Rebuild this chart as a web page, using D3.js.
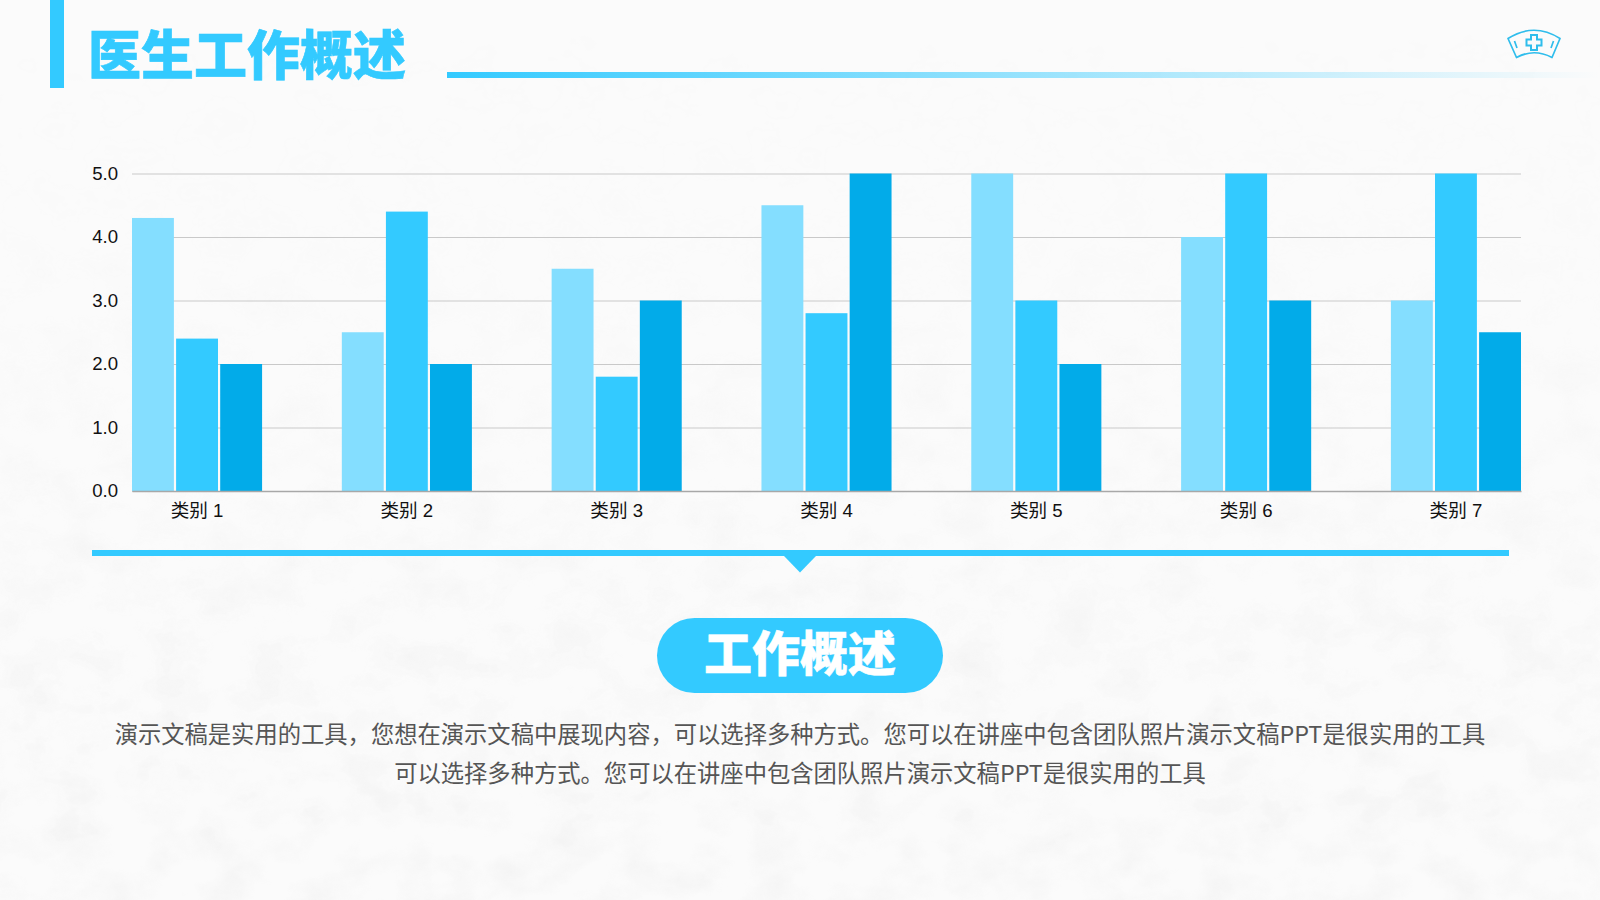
<!DOCTYPE html>
<html>
<head>
<meta charset="utf-8">
<script src="https://cdn.jsdelivr.net/npm/d3@7"></script>
<style>
  html, body { margin: 0; padding: 0; background: #fbfbfb; overflow: hidden; }
  text { font-family: "Noto Sans CJK SC", sans-serif; }
  .axis text { font-family: "Liberation Sans", "Noto Sans CJK SC", sans-serif; font-size: 18.6px; fill: #111; }
</style>
</head>
<body>
<div id="chart"></div>
<script>
const width = 1600;
const height = 900;

const categories = ["类别 1", "类别 2", "类别 3", "类别 4", "类别 5", "类别 6", "类别 7"];
const seriesNames = ["系列 1", "系列 2", "系列 3"];
const series1 = [4.3, 2.5, 3.5, 4.5, 5.0, 4.0, 3.0];
const series2 = [2.4, 4.4, 1.8, 2.8, 3.0, 5.0, 5.0];
const series3 = [2.0, 2.0, 3.0, 5.0, 2.0, 3.0, 2.5];
const seriesValues = [series1, series2, series3];
const seriesColors = ["#84deff", "#33caff", "#02abe9"];
const yTicks = [0, 1, 2, 3, 4, 5];

const bodyLines = [
  "演示文稿是实用的工具，您想在演示文稿中展现内容，可以选择多种方式。您可以在讲座中包含团队照片演示文稿PPT是很实用的工具",
  "可以选择多种方式。您可以在讲座中包含团队照片演示文稿PPT是很实用的工具"
];

const blue = "#33caff";

const svg = d3.select("#chart").append("svg")
    .attr("width", width)
    .attr("height", height)
    .attr("viewBox", [0, 0, width, height])
    .style("display", "block");

const defs = svg.append("defs");

// paper texture for the background, stronger towards the bottom
const paper = defs.append("filter").attr("id", "paper")
    .attr("x", 0).attr("y", 0).attr("width", "100%").attr("height", "100%");
paper.append("feTurbulence")
    .attr("type", "fractalNoise")
    .attr("baseFrequency", "0.02 0.028")
    .attr("numOctaves", 6)
    .attr("seed", 4);
paper.append("feColorMatrix")
    .attr("values", "0 0 0 0 0.45  0 0 0 0 0.45  0 0 0 0 0.45  0.9 0 0 0 -0.36");

const fade = defs.append("linearGradient").attr("id", "textureFade")
    .attr("x1", 0).attr("y1", 0).attr("x2", 0).attr("y2", 1);
fade.append("stop").attr("offset", "0%").attr("stop-color", "#000");
fade.append("stop").attr("offset", "25%").attr("stop-color", "#333");
fade.append("stop").attr("offset", "70%").attr("stop-color", "#ccc");
fade.append("stop").attr("offset", "100%").attr("stop-color", "#fff");
defs.append("mask").attr("id", "textureMask")
  .append("rect").attr("width", width).attr("height", height).attr("fill", "url(#textureFade)");

const headerLine = defs.append("linearGradient").attr("id", "headerLine");
headerLine.append("stop").attr("offset", "0%").attr("stop-color", blue);
headerLine.append("stop").attr("offset", "100%").attr("stop-color", blue).attr("stop-opacity", 0);

svg.append("rect").attr("width", width).attr("height", height).attr("fill", "#fbfbfb");
svg.append("g").attr("mask", "url(#textureMask)")
  .append("rect").attr("width", width).attr("height", height)
    .attr("filter", "url(#paper)").attr("opacity", 0.2);

// header
svg.append("rect").attr("x", 50).attr("y", 0).attr("width", 14).attr("height", 88).attr("fill", blue);
svg.append("text")
    .attr("x", 88).attr("y", 74.5)
    .attr("fill", blue)
    .attr("stroke", blue).attr("stroke-width", 0.6)
    .style("font-size", "53px").style("font-weight", 900)
    .text("医生工作概述");
svg.append("rect").attr("x", 447).attr("y", 72).attr("width", 1153).attr("height", 6).attr("fill", "url(#headerLine)");

// nurse cap icon
const cap = svg.append("g").attr("fill", "none").attr("stroke", "#2fbdec").attr("stroke-width", 1.7);
cap.append("path").attr("d", "M1508 38.5Q1534 22 1560 38.5L1552 57.5Q1534 48 1516.5 57.5Z").attr("stroke-linejoin", "round");
cap.append("path").attr("d", "M1531 35h6v4.5h4.5v6h-4.5v4.5h-6v-4.5h-4.5v-6h4.5z").attr("stroke-width", 2);
cap.append("path").attr("d", "M1514.5 41l2.5 7M1553.5 41l-2.5 7");

// chart
const margin = { top: 173.5, right: 79, bottom: 409, left: 132 };

const x0 = d3.scaleBand()
    .domain(categories)
    .range([margin.left, width - margin.right])
    .paddingInner(0.38)
    .paddingOuter(0);

const x1 = d3.scaleBand()
    .domain(seriesNames)
    .range([0, x0.bandwidth()])
    .paddingInner(0.05);

const y = d3.scaleLinear()
    .domain([0, 5])
    .range([height - margin.bottom, margin.top]);

const yAxis = svg.append("g")
    .attr("class", "axis")
    .attr("transform", `translate(${margin.left},0)`)
    .call(d3.axisLeft(y).tickValues(yTicks).tickFormat(d3.format(".1f")).tickSize(-(width - margin.left - margin.right)).tickPadding(14));
yAxis.select(".domain").remove();
yAxis.selectAll(".tick line").attr("stroke", "#c9c9c9").attr("stroke-width", 1.2);

svg.append("g")
  .selectAll("g")
  .data(categories)
  .join("g")
    .attr("transform", d => `translate(${x0(d)},0)`)
  .selectAll("rect")
  .data((d, i) => seriesNames.map((name, s) => ({ name, value: seriesValues[s][i], color: seriesColors[s] })))
  .join("rect")
    .attr("x", d => x1(d.name))
    .attr("width", x1.bandwidth())
    .attr("y", d => y(d.value))
    .attr("height", d => y(0) - y(d.value))
    .attr("fill", d => d.color);

const xAxis = svg.append("g")
    .attr("class", "axis")
    .attr("transform", `translate(0,${height - margin.bottom})`)
    .call(d3.axisBottom(x0).tickSize(0).tickPadding(13));
xAxis.select(".domain").attr("stroke", "#a8a8a8").attr("stroke-width", 1.5);

// divider with pointer
svg.append("rect").attr("x", 92).attr("y", 550).attr("width", 1417).attr("height", 6).attr("fill", blue);
svg.append("path").attr("d", "M784 556H816L800 572.5Z").attr("fill", blue);

// pill heading
svg.append("rect").attr("x", 657).attr("y", 618).attr("width", 286).attr("height", 75).attr("rx", 37.5).attr("fill", blue);
svg.append("text")
    .attr("x", 800).attr("y", 671)
    .attr("text-anchor", "middle")
    .attr("fill", "#fff")
    .attr("stroke", "#fff").attr("stroke-width", 0.5)
    .style("font-size", "48px").style("font-weight", 900)
    .text("工作概述");

// body text
svg.append("g")
  .selectAll("text")
  .data(bodyLines)
  .join("text")
    .attr("x", 800)
    .attr("y", (d, i) => 743 + i * 39)
    .attr("text-anchor", "middle")
    .attr("fill", "#555")
    .style("font-size", "23.3px")
    .text(d => d);
</script>
</body>
</html>
